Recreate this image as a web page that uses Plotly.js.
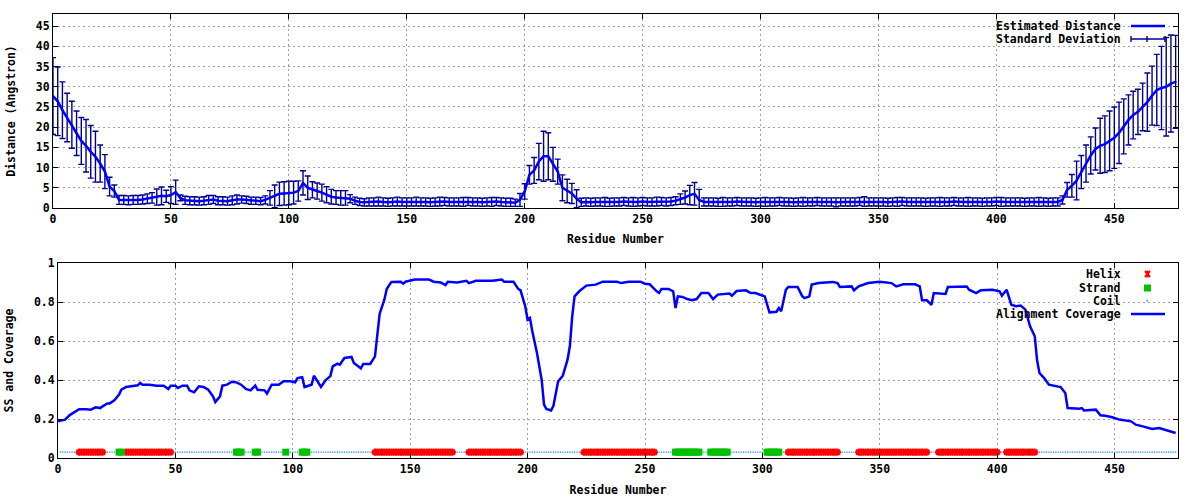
<!DOCTYPE html>
<html>
<head>
<meta charset="utf-8">
<script src="https://cdn.plot.ly/plotly-3.0.1.min.js"></script>
<style>html,body{margin:0;padding:0;background:#fff;}#chart{width:1200px;height:500px;}</style>
</head>
<body>
<div id="chart"></div>
<script>
// ---------- DATA ----------
// Estimated distance (Angstrom), one value every 2 residues starting at residue 0
const residueStep = 2;
const estimatedDistance = [
27.7,26.4,24.2,22.4,20.6,18.5,16.6,15.4,13.9,12.7,
11.0,9.0,5.3,4.2,2.0,2.0,1.9,2.0,2.0,2.1,
2.3,2.5,2.7,3.0,2.9,3.2,3.9,2.5,1.9,1.8,
1.8,1.7,1.8,2.0,2.1,1.8,1.8,1.7,1.9,2.1,
2.1,2.0,1.8,1.8,1.7,2.0,2.5,2.9,3.5,3.6,
3.7,3.8,4.2,6.2,5.0,4.5,4.2,3.8,3.3,2.8,
2.6,2.5,2.5,2.3,1.8,1.5,1.4,
1.5,1.5,1.6,1.5,1.4,1.5,1.6,1.5,1.5,1.5,
1.6,1.5,1.5,1.4,1.5,1.6,1.6,1.5,1.5,1.5,
1.5,1.6,1.5,1.5,1.4,1.5,1.5,1.6,1.5,1.4,1.4,
1.3,2.0,4.1,8.2,9.3,11.5,12.8,12.8,10.8,9.0,5.0,4.2,3.6,2.3,1.4,
1.5,1.4,1.5,1.5,1.5,1.4,1.5,1.5,1.6,1.5,1.5,1.5,1.6,1.5,1.5,1.6,1.6,1.5,1.6,
1.8,2.2,2.6,3.2,3.5,2.0,
1.5,1.5,1.5,1.4,1.5,1.5,1.5,1.6,1.5,1.5,
1.5,1.4,1.5,1.5,1.5,1.5,1.6,1.5,1.5,1.4,
1.5,1.5,1.5,1.5,1.6,1.5,1.5,1.5,1.4,1.5,
1.5,1.5,1.5,1.6,1.6,1.5,1.5,1.5,1.5,1.4,
1.5,1.5,1.6,1.5,1.5,1.5,1.5,1.4,1.5,1.5,
1.5,1.5,1.5,1.6,1.5,1.5,1.5,1.5,1.5,1.4,
1.5,1.5,1.6,1.5,1.5,1.5,1.5,1.5,1.4,1.5,
1.5,1.5,1.5,1.4,1.5,1.5,
2.0,4.5,5.5,6.8,8.9,11.0,13.0,14.6,15.4,15.8,
16.6,17.4,18.6,20.2,21.8,23.0,23.8,25.0,26.2,27.8,
29.2,29.7,30.0,30.8,31.2
];
const standardDeviation = [
9.5,8.5,7.0,6.0,5.8,5.5,5.8,6.5,6.5,6.3,
4.6,4.2,2.3,1.5,1.1,1.1,1.1,1.1,1.1,1.1,
1.2,1.3,2.0,2.2,1.5,2.1,3.0,0.7,1.0,1.0,
1.0,1.0,1.0,1.1,1.0,1.0,1.0,1.0,1.1,1.1,
0.9,0.9,0.9,0.9,0.9,1.0,1.8,2.8,2.9,2.9,
2.9,2.8,2.5,3.0,2.9,2.0,2.0,2.1,2.0,1.8,
1.7,1.8,1.8,1.0,0.9,0.9,0.9,
1.0,1.0,1.1,1.0,1.0,1.0,1.1,1.0,1.0,1.0,
1.1,1.0,1.0,1.0,1.0,1.1,1.0,1.0,1.0,1.0,
1.1,1.0,1.0,1.0,1.0,1.0,1.1,1.0,1.0,1.0,1.0,
0.9,1.6,1.9,2.3,3.2,4.5,6.2,5.8,4.2,3.1,3.2,2.9,2.5,2.2,1.0,
1.0,1.0,1.0,1.0,1.1,1.0,1.0,1.0,1.0,1.0,1.1,1.0,1.0,1.0,1.0,1.1,1.0,1.0,1.0,
1.0,1.3,1.6,2.4,2.8,2.6,
1.0,1.0,1.0,1.0,1.1,1.0,1.0,1.0,1.0,1.0,
1.0,1.0,1.0,1.1,1.0,1.0,1.0,1.0,1.0,1.0,
1.0,1.1,1.0,1.0,1.0,1.0,1.0,1.0,1.1,1.0,
1.0,1.0,1.0,1.0,1.2,1.0,1.0,1.0,1.0,1.0,
1.0,1.1,1.0,1.0,1.0,1.0,1.0,1.0,1.0,1.0,
1.1,1.0,1.0,1.0,1.0,1.0,1.1,1.0,1.0,1.0,
1.0,1.0,1.0,1.1,1.0,1.0,1.0,1.0,1.0,1.0,
1.0,1.1,1.0,1.0,1.0,1.0,
1.0,1.8,2.8,4.8,4.1,4.6,4.6,5.2,6.8,7.0,
7.4,7.6,7.6,6.8,6.2,5.9,5.6,5.9,7.2,7.3,
8.8,10.3,12.2,12.0,11.5
];

// Alignment coverage (residue, value)
const coverageResidue = [0,3,5,7,9,12,14,16,18,19,21,22,23,24,26,27,29,31,34,35,36,39,42,45,47,48,50,51,53,55,56,58,60,62,64,66,67,69,70,72,74,76,78,80,82,84,85,88,89,91,94,96,99,101,102,104,105,106,108,109,111,112,114,116,117,119,120,122,125,126,129,130,133,135,136,137,139,140,142,146,147,148,152,158,160,163,165,166,170,174,175,178,185,189,190,194,196,197,199,200,201,202,204,205,206,207,208,210,211,213,215,217,218,219,220,222,225,229,232,238,240,243,248,250,252,255,256,257,260,262,263,264,266,268,270,272,274,277,279,281,286,287,289,293,295,297,301,303,306,307,308,310,311,315,317,318,320,321,324,330,332,333,338,339,341,345,350,355,357,360,365,367,368,370,372,373,378,379,387,388,391,393,398,401,402,404,405,406,408,410,412,414,416,417,418,420,422,427,429,430,435,436,437,440,442,444,446,449,452,457,459,462,466,469,473,476];
const coverageValue = [0.188,0.197,0.22,0.234,0.25,0.25,0.248,0.26,0.256,0.265,0.28,0.28,0.29,0.296,0.325,0.35,0.364,0.368,0.373,0.385,0.376,0.376,0.371,0.371,0.354,0.371,0.371,0.359,0.371,0.371,0.347,0.337,0.368,0.364,0.35,0.316,0.287,0.316,0.371,0.376,0.391,0.388,0.376,0.354,0.347,0.371,0.35,0.347,0.33,0.376,0.376,0.393,0.393,0.388,0.41,0.414,0.364,0.368,0.376,0.422,0.385,0.364,0.40,0.42,0.47,0.484,0.479,0.513,0.518,0.487,0.46,0.482,0.482,0.521,0.632,0.74,0.812,0.867,0.903,0.904,0.894,0.904,0.915,0.915,0.904,0.90,0.887,0.904,0.90,0.909,0.897,0.909,0.909,0.915,0.904,0.904,0.867,0.86,0.778,0.709,0.718,0.65,0.538,0.456,0.40,0.274,0.251,0.244,0.268,0.393,0.422,0.504,0.573,0.726,0.829,0.855,0.884,0.889,0.904,0.904,0.897,0.904,0.904,0.894,0.891,0.855,0.846,0.867,0.867,0.855,0.769,0.829,0.826,0.815,0.809,0.815,0.846,0.846,0.815,0.838,0.843,0.832,0.856,0.86,0.846,0.846,0.829,0.747,0.75,0.769,0.752,0.863,0.877,0.877,0.829,0.82,0.829,0.889,0.897,0.903,0.897,0.877,0.88,0.86,0.88,0.897,0.904,0.897,0.88,0.891,0.891,0.88,0.809,0.809,0.786,0.846,0.841,0.877,0.88,0.863,0.846,0.86,0.863,0.855,0.832,0.863,0.829,0.786,0.778,0.782,0.761,0.675,0.624,0.50,0.436,0.41,0.376,0.364,0.333,0.256,0.253,0.256,0.244,0.248,0.248,0.219,0.217,0.209,0.197,0.188,0.171,0.162,0.149,0.154,0.137,0.128];

// Secondary structure segments (first and last residue)
const helixStart  = [9, 29, 135, 175, 224, 311, 341, 375, 404];
const helixEnd    = [19, 48, 168, 197, 254, 332, 370, 400, 416];
const strandStart = [26, 76, 84, 97, 104, 263, 278, 302];
const strandEnd   = [27, 78, 85, 97, 106, 273, 285, 307];
const totalResidues = 476;
const ssLevel = 0.03;

// ---------- BUILD ----------
const distRes = estimatedDistance.map((_, i) => i * residueStep);
const inSeg = (r, s, e) => s.some((v, k) => r >= v && r <= e[k]);
const hx = [], sx = [], cx = [];
for (let r = 1; r <= totalResidues; r++) {
  if (inSeg(r, helixStart, helixEnd)) hx.push(r);
  else if (inSeg(r, strandStart, strandEnd)) sx.push(r);
  else cx.push(r);
}

const FONT = {family: 'DejaVu Sans Mono', size: 11.5, color: '#000', weight: 'bold'};
const W = 1200, H = 500;
const px = v => v / W, py = v => 1 - v / H;

const traces = [
  {x: distRes, y: estimatedDistance, type: 'scatter', mode: 'markers',
   marker: {size: 2, color: '#00008b'},
   error_y: {type: 'data', array: standardDeviation, visible: true, color: '#00008b', thickness: 1.4, width: 3},
   xaxis: 'x', yaxis: 'y', hoverinfo: 'skip'},
  {x: distRes, y: estimatedDistance, type: 'scatter', mode: 'lines',
   line: {color: '#0000ff', width: 2.5}, xaxis: 'x', yaxis: 'y'},
  {x: cx, y: cx.map(() => ssLevel), type: 'scatter', mode: 'markers',
   marker: {symbol: 'square', size: 1.3, color: '#1a8cff'}, xaxis: 'x2', yaxis: 'y2'},
  {x: hx, y: hx.map(() => ssLevel), type: 'scatter', mode: 'markers',
   marker: {symbol: 'asterisk-open', size: 6, color: '#ff0000', line: {color: '#ff0000', width: 2}}, xaxis: 'x2', yaxis: 'y2'},
  {x: sx, y: sx.map(() => ssLevel), type: 'scatter', mode: 'markers',
   marker: {symbol: 'square', size: 7, color: '#00c000'}, xaxis: 'x2', yaxis: 'y2'},
  {x: coverageResidue, y: coverageValue, type: 'scatter', mode: 'lines',
   line: {color: '#0000ff', width: 2.5}, xaxis: 'x2', yaxis: 'y2'}
];

const axisBase = {
  showline: true, linecolor: '#000', linewidth: 1, mirror: 'allticks',
  ticks: 'inside', ticklen: 5, tickcolor: '#000', tickwidth: 1,
  showgrid: true, gridcolor: '#a0a0a0', griddash: '2px,3px', gridwidth: 1,
  zeroline: false, tickfont: FONT
};

const layout = {
  width: W, height: H, margin: {l: 0, r: 0, t: 0, b: 0},
  paper_bgcolor: '#fff', plot_bgcolor: '#fff', showlegend: false,
  font: FONT,
  xaxis: Object.assign({}, axisBase, {domain: [px(53), px(1178)], range: [0, 477], dtick: 50, tick0: 0,
    anchor: 'y', title: {text: 'Residue Number', font: FONT, standoff: 10}}),
  yaxis: Object.assign({}, axisBase, {domain: [py(208), py(14)], range: [0, 48], dtick: 5, tick0: 0,
    anchor: 'x', title: {text: 'Distance (Angstron)', font: FONT, standoff: 17}}),
  xaxis2: Object.assign({}, axisBase, {domain: [px(58), px(1178)], range: [0, 477], dtick: 50, tick0: 0,
    anchor: 'y2', title: {text: 'Residue Number', font: FONT, standoff: 11}}),
  yaxis2: Object.assign({}, axisBase, {domain: [py(458), py(263)], range: [0, 1], dtick: 0.2, tick0: 0,
    anchor: 'x2', title: {text: 'SS and Coverage', font: FONT, standoff: 17}}),
  annotations: [], shapes: []
};

// manual gnuplot-style key (text right, sample left)
function keyText(t, y) {
  layout.annotations.push({xref: 'paper', yref: 'paper', x: px(1123), y: py(y), xanchor: 'right', yanchor: 'middle',
    text: t, showarrow: false, font: FONT});
}
function keyLine(y, color, w) {
  layout.shapes.push({type: 'line', xref: 'paper', yref: 'paper', x0: px(1131), x1: px(1165), y0: py(y), y1: py(y),
    line: {color: color, width: w}});
}
keyText('Estimated Distance', 26); keyLine(26, '#0000ff', 2.5);
keyText('Standard Deviation', 39); keyLine(39, '#00008b', 1.4);
[1131, 1147, 1165].forEach(x => layout.shapes.push({type: 'line', xref: 'paper', yref: 'paper',
  x0: px(x), x1: px(x), y0: py(36), y1: py(42), line: {color: '#00008b', width: 1.4}}));

keyText('Helix', 274); keyText('Strand', 288); keyText('Coil', 301); keyText('Alignment Coverage', 314);
keyLine(314, '#0000ff', 2.5);
layout.shapes.push({type: 'rect', xref: 'paper', yref: 'paper', x0: px(1144), x1: px(1151), y0: py(291.5), y1: py(284.5),
  fillcolor: '#00c000', line: {width: 0}});
layout.shapes.push({type: 'rect', xref: 'paper', yref: 'paper', x0: px(1146.5), x1: px(1148), y0: py(301.5), y1: py(300),
  fillcolor: '#1a8cff', line: {width: 0}});
[[1145, 271, 1150, 277], [1150, 271, 1145, 277], [1147.5, 270.5, 1147.5, 277.5]].forEach(s =>
  layout.shapes.push({type: 'line', xref: 'paper', yref: 'paper', x0: px(s[0]), y0: py(s[1]), x1: px(s[2]), y1: py(s[3]),
    line: {color: '#ff0000', width: 2}}));

Plotly.newPlot('chart', traces, layout, {staticPlot: true, displayModeBar: false});
</script>
</body>
</html>
